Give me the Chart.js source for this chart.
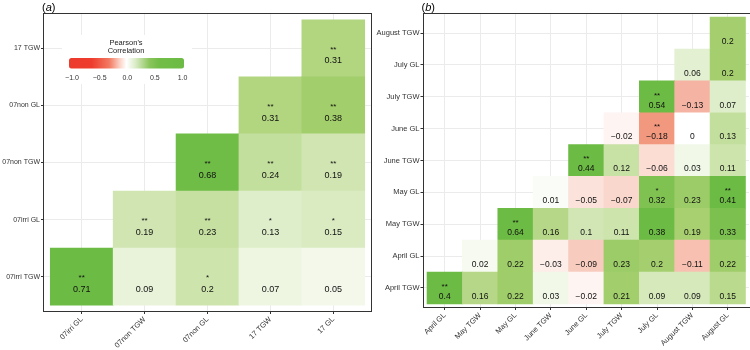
<!DOCTYPE html>
<html><head><meta charset="utf-8">
<script src="https://cdn.jsdelivr.net/npm/chart.js@4.4.1/dist/chart.umd.min.js"></script>
<style>
html,body{margin:0;padding:0;background:#fff;}
#wrap{position:relative;width:750px;height:350px;overflow:hidden;}
.box{position:absolute;top:0;width:375px;height:350px;}
#boxA{left:0}
#boxB{left:375px}
</style></head><body>
<div id="wrap">
<div class="box" id="boxA"><canvas id="cA"></canvas></div>
<div class="box" id="boxB"><canvas id="cB"></canvas></div>
</div>
<script>
// ---------- Panel (a) data (rows listed bottom to top; row r starts at column r) ----------
const aCols = ['07irri GL', '07non TGW', '07non GL', '17 TGW', '17 GL'];
const aRows = ['07irri TGW', '07irri GL', '07non TGW', '07non GL', '17 TGW'];
const aValues = [
  [0.71, 0.09, 0.2, 0.07, 0.05],
  [0.19, 0.23, 0.13, 0.15],
  [0.68, 0.24, 0.19],
  [0.31, 0.38],
  [0.31]
];
const aStars = [
  ['**', '', '*', '', ''],
  ['**', '**', '*', '*'],
  ['**', '**', '**'],
  ['**', '**'],
  ['**']
];

// ---------- Panel (b) data ----------
const bCols = ['April GL', 'May TGW', 'May GL', 'June TGW', 'June GL', 'July TGW', 'July GL', 'August TGW', 'August GL'];
const bRows = ['April TGW', 'April GL', 'May TGW', 'May GL', 'June TGW', 'June GL', 'July TGW', 'July GL', 'August TGW'];
const bValues = [
  [0.4, 0.16, 0.22, 0.03, -0.02, 0.21, 0.09, 0.09, 0.15],
  [0.02, 0.22, -0.03, -0.09, 0.23, 0.2, -0.11, 0.22],
  [0.64, 0.16, 0.1, 0.11, 0.38, 0.19, 0.33],
  [0.01, -0.05, -0.07, 0.32, 0.23, 0.41],
  [0.44, 0.12, -0.06, 0.03, 0.11],
  [-0.02, -0.18, 0, 0.13],
  [0.54, -0.13, 0.07],
  [0.06, 0.2],
  [0.2]
];
const bStars = [
  ['**', '', '', '', '', '', '', '', ''],
  ['', '', '', '', '', '', '', ''],
  ['**', '', '', '', '', '', ''],
  ['', '', '', '*', '', '**'],
  ['**', '', '', '', ''],
  ['', '**', '', ''],
  ['**', '', ''],
  ['', ''],
  ['']
];

// legend tick labels
const legendTicks = [-1.0, -0.5, 0.0, 0.5, 1.0];

// ---------- colour mapping ----------
const GREEN_STOPS = [[255, 255, 255], [168, 208, 112], [108, 187, 68]];
const RED_STOPS = [[255, 255, 255], [241, 146, 120], [232, 57, 42]];
function mix(c1, c2, t) { return c1.map((v, i) => Math.round(v + (c2[i] - v) * t)); }
function ramp(stops, t) {
  t = Math.max(0, Math.min(1, t));
  return t <= 0.5 ? mix(stops[0], stops[1], t * 2) : mix(stops[1], stops[2], (t - 0.5) * 2);
}
function fillFor(v, sat) {
  const c = v >= 0 ? ramp(GREEN_STOPS, v / sat) : ramp(RED_STOPS, -v / sat);
  return 'rgb(' + c.join(',') + ')';
}
function fmt(v) { return String(v).replace('-', '\u2212'); }

const FONT = '"Liberation Sans", Arial, Helvetica, sans-serif';
const AXIS_COL = '#333333';

function buildDatasets(rows, values, sat) {
  return values.map((rowVals, r) => ({
    label: rows[r],
    data: rowVals.map((v, k) => ({ x: r + k, y: [r - 0.5, r + 0.5] })),
    backgroundColor: rowVals.map(v => fillFor(v, sat)),
    borderWidth: 0,
    grouped: false,
    categoryPercentage: 1,
    barPercentage: 1
  }));
}

function makeChart(canvasId, cfg) {
  const { cols, rows, values, stars, sat, yW, xH, padRight, tag, starDy, numDy, yFont, numFont, extra } = cfg;
  const cellText = {
    id: 'cellText',
    afterDatasetsDraw(chart) {
      const ctx = chart.ctx, xs = chart.scales.x, ys = chart.scales.y;
      ctx.save();
      ctx.fillStyle = '#111';
      ctx.textAlign = 'center';
      ctx.textBaseline = 'middle';
      values.forEach((rowVals, r) => {
        rowVals.forEach((v, k) => {
          const cx = xs.getPixelForValue(r + k);
          const cy = ys.getPixelForValue(r);
          ctx.font = numFont + 'px ' + FONT;
          ctx.fillText(fmt(v), cx, cy + numDy);
          const s = stars[r][k];
          if (s) {
            ctx.font = '8px ' + FONT;
            ctx.fillText(s, cx, cy + starDy);
          }
        });
      });
      ctx.restore();
    }
  };
  const frame = {
    id: 'frame',
    afterDraw(chart) {
      const { left, top, right, bottom } = chart.chartArea;
      const ctx = chart.ctx;
      ctx.save();
      ctx.strokeStyle = '#333';
      ctx.lineWidth = 1;
      ctx.strokeRect(Math.round(left) - 0.5, Math.round(top) - 0.5, Math.round(right - left) + 1, Math.round(bottom - top) + 1);
      // panel tag "(a)" with italic letter
      ctx.fillStyle = '#000';
      ctx.textBaseline = 'alphabetic';
      ctx.textAlign = 'left';
      let x = left - 2;
      const y = 10.5;
      ctx.font = '11px ' + FONT;
      ctx.fillText('(', x, y); x += ctx.measureText('(').width;
      ctx.font = 'italic 11px ' + FONT;
      ctx.fillText(tag, x, y); x += ctx.measureText(tag).width;
      ctx.font = '11px ' + FONT;
      ctx.fillText(')', x, y);
      ctx.restore();
    }
  };
  const plugins = [cellText, frame];
  if (extra) plugins.push(extra);
  return new Chart(document.getElementById(canvasId), {
    type: 'bar',
    data: { datasets: buildDatasets(rows, values, sat) },
    options: {
      responsive: true,
      maintainAspectRatio: false,
      animation: false,
      layout: { padding: { top: 14, right: padRight, left: 0, bottom: 0 } },
      plugins: { legend: { display: false }, tooltip: { enabled: false } },
      scales: {
        x: {
          type: 'linear',
          offset: false,
          min: -0.6, max: cols.length - 0.4,
          afterBuildTicks: s => { s.ticks = cols.map((_, i) => ({ value: i })); },
          afterFit: s => { s.height = xH; },
          ticks: {
            autoSkip: false, minRotation: 45, maxRotation: 45,
            callback: v => cols[v], color: AXIS_COL, padding: 1,
            font: { family: FONT, size: 7.5 }
          },
          grid: { offset: false, color: '#ebebeb', lineWidth: 1, tickColor: '#333', tickLength: 3 },
          border: { display: false }
        },
        y: {
          type: 'linear',
          min: -0.6, max: rows.length - 0.4,
          afterBuildTicks: s => { s.ticks = rows.map((_, i) => ({ value: i })); },
          afterFit: s => { s.width = yW; },
          ticks: {
            autoSkip: false, callback: v => rows[v], color: AXIS_COL, padding: 1,
            font: { family: FONT, size: yFont }
          },
          grid: { color: '#ebebeb', lineWidth: 1, tickColor: '#333', tickLength: 3 },
          border: { display: false }
        }
      }
    },
    plugins
  });
}

// legend (colour bar) for panel (a)
const colourLegend = {
  id: 'colourLegend',
  afterDatasetsDraw(chart) {
    const ctx = chart.ctx;
    ctx.save();
    ctx.fillStyle = '#fff';
    ctx.fillRect(62, 35, 130, 49);
    ctx.fillStyle = '#222';
    ctx.textAlign = 'center';
    ctx.textBaseline = 'middle';
    ctx.font = '7.5px ' + FONT;
    ctx.fillText("Pearson's", 126, 42.5);
    ctx.fillText('Correlation', 126, 51);
    const x0 = 69, x1 = 184, y0 = 58, h = 10.5;
    const g = ctx.createLinearGradient(x0, 0, x1, 0);
    g.addColorStop(0, '#ec3a2c');
    g.addColorStop(0.2, '#ee3d2e');
    g.addColorStop(0.35, '#f27a62');
    g.addColorStop(0.44, '#fbd0c4');
    g.addColorStop(0.5, '#ffffff');
    g.addColorStop(0.58, '#d9ebc6');
    g.addColorStop(0.7, '#8ac55c');
    g.addColorStop(0.78, '#72bd48');
    g.addColorStop(1, '#6cbb44');
    ctx.fillStyle = g;
    ctx.beginPath();
    if (ctx.roundRect) ctx.roundRect(x0, y0, x1 - x0, h, 2.5); else ctx.rect(x0, y0, x1 - x0, h);
    ctx.fill();
    ctx.fillStyle = '#333';
    ctx.font = '7px ' + FONT;
    const lx0 = 72, lx1 = 182.5;
    legendTicks.forEach(t => {
      const x = lx0 + (t + 1) / 2 * (lx1 - lx0);
      ctx.fillText(fmt(t.toFixed(1)), x, 77.7);
    });
    ctx.restore();
  }
};

makeChart('cA', {
  cols: aCols, rows: aRows, values: aValues, stars: aStars, sat: 0.7,
  yW: 44, xH: 39, padRight: 4, tag: 'a', starDy: 1.5, numDy: 12.7, yFont: 7, numFont: 9, extra: colourLegend
});
makeChart('cB', {
  cols: bCols, rows: bRows, values: bValues, stars: bStars, sat: 0.38,
  yW: 48.5, xH: 43, padRight: 1, tag: 'b', starDy: -1.5, numDy: 8.4, yFont: 7.5, numFont: 8.5
});
</script>
</body></html>
